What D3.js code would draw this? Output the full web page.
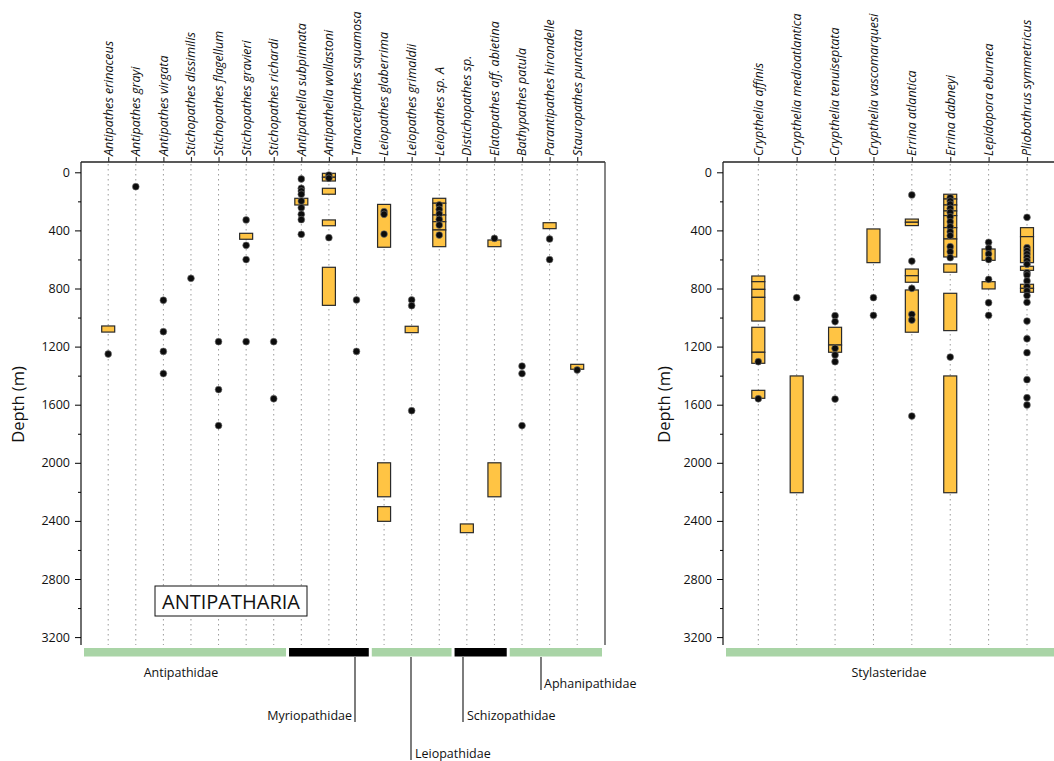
<!DOCTYPE html>
<html>
<head>
<meta charset="utf-8">
<script src="https://cdn.jsdelivr.net/npm/d3@7"></script>
<style>
  body { margin: 0; background: #fff; }
  svg { font-family: "Open Sans", "Noto Sans", sans-serif; }
</style>
</head>
<body>
<svg id="chart" width="1054" height="761"></svg>
<script>
// ---- Antipatharia (left panel) ----
const antSpecies = [
  "Antipathes erinaceus", "Antipathes grayi", "Antipathes virgata", "Stichopathes dissimilis",
  "Stichopathes flagellum", "Stichopathes gravieri", "Stichopathes richardi", "Antipathella subpinnata",
  "Antipathella wollastoni", "Tanacetipathes squamosa", "Leiopathes glaberrima", "Leiopathes grimaldii",
  "Leiopathes sp. A", "Distichopathes sp.", "Elatopathes aff. abietina", "Bathypathes patula",
  "Parantipathes hirondelle", "Stauropathes punctata"
];
// depth ranges (m) per species
const antRanges = [
  [[1058, 1100]], [], [], [], [], [[420, 461]], [],
  [[179, 225]],
  [[7, 34], [34, 60], [110, 151], [328, 368], [654, 916]],
  [],
  [[221, 516], [2000, 2234], [2302, 2403]],
  [[1060, 1104]],
  [[179, 213], [213, 294], [294, 340], [340, 397], [397, 512]],
  [[2421, 2481]],
  [[466, 512], [2000, 2234]],
  [],
  [[347, 388]],
  [[1322, 1356]]
];
// single depth records (m) per species
const antRecords = [
  [1251], [99], [881, 1097, 1233, 1386], [730], [1166, 1496, 1744], [328, 503, 601, 1166], [1166, 1559],
  [46, 110, 129, 151, 198, 244, 289, 326, 427],
  [19, 41, 450],
  [879, 1233],
  [271, 289, 425],
  [879, 918, 1641],
  [225, 255, 287, 324, 363, 432],
  [],
  [455],
  [1334, 1386, 1744],
  [459, 601],
  [1361]
];
const antFamilies = ["Antipathidae", "Myriopathidae", "Leiopathidae", "Schizopathidae", "Aphanipathidae"];
const antFamilySpan = [[0, 6], [7, 9], [10, 12], [13, 14], [15, 17]];

// ---- Stylasteridae (right panel) ----
const stySpecies = [
  "Crypthelia affinis", "Crypthelia medioatlantica", "Crypthelia tenuiseptata", "Crypthelia vascomarquesi",
  "Errina atlantica", "Errina dabneyi", "Lepidopora eburnea", "Pliobothrus symmetricus"
];
const styRanges = [
  [[714, 753], [753, 806], [806, 861], [861, 1024], [1067, 1239], [1239, 1315], [1501, 1556]],
  [[1402, 2206]],
  [[1067, 1189], [1189, 1239]],
  [[390, 622]],
  [[322, 344], [344, 367], [666, 712], [712, 757], [810, 1101]],
  [[151, 184], [184, 225], [225, 266], [266, 298], [298, 381], [381, 459], [459, 583], [631, 688], [833, 1090], [1402, 2206]],
  [[528, 606], [753, 803]],
  [[381, 443], [443, 622], [647, 675], [771, 799], [799, 826]]
];
const styRecords = [
  [1304, 1559],
  [863],
  [987, 1028, 1212, 1258, 1304, 1561],
  [863, 985],
  [156, 611, 799, 978, 1017, 1678],
  [175, 198, 220, 248, 275, 306, 340, 375, 409, 436, 512, 547, 588, 1272],
  [482, 523, 562, 601, 737, 898, 985],
  [310, 519, 540, 562, 585, 609, 633, 691, 707, 748, 787, 817, 849, 895, 1024, 1146, 1242, 1428, 1552, 1602]
];
const styFamilies = ["Stylasteridae"];
const styFamilySpan = [[0, 7]];

const depthMajor = d3.range(0, 3201, 400);
const depthMinor = d3.range(200, 3200, 400);

// config
const svg = d3.select("#chart");
const frameTop = 162;
const frameBottom = 645;
const barColor = "#ffc444";
const famColors = ["#a9d4a6", "#000000"];
const y = d3.scaleLinear().domain([0, 3200]).range([172.3, 637.1]);

function translate(x, y) {
  return `translate(${x}, ${y})`;
}

function drawPanel(p) {
  const g = svg.append("g");
  const x = d3.scalePoint().domain(p.species).range(p.colRange);

  // frame
  g.append("line").attr("x1", p.left).attr("x2", p.right).attr("y1", frameTop).attr("y2", frameTop)
    .attr("stroke", "#222").attr("stroke-width", 1.3);
  g.append("line").attr("x1", p.left).attr("x2", p.left).attr("y1", frameTop).attr("y2", frameBottom)
    .attr("stroke", "#222").attr("stroke-width", 1.3);
  g.append("line").attr("x1", p.right).attr("x2", p.right).attr("y1", frameTop).attr("y2", frameBottom)
    .attr("stroke", "#444").attr("stroke-width", 1.3);

  // dotted column lines
  g.append("g").selectAll("line")
    .data(p.species)
    .join("line")
    .attr("x1", d => x(d)).attr("x2", d => x(d))
    .attr("y1", frameTop + 2).attr("y2", frameBottom)
    .attr("stroke", "#9a9a9a").attr("stroke-width", 1)
    .attr("stroke-dasharray", "1.5,3.5");

  // top ticks
  const top = g.append("g").attr("transform", translate(0, frameTop))
    .call(d3.axisTop(x).tickSize(5).tickFormat(""));
  top.select(".domain").remove();
  top.selectAll(".tick line").attr("stroke", "#333").attr("stroke-width", 1.2);

  // species labels
  g.append("g").selectAll("text")
    .data(p.species)
    .join("text")
    .attr("transform", d => translate(x(d), frameTop - 6) + " rotate(-90)")
    .attr("dy", "0.35em")
    .attr("font-size", 12.5)
    .attr("font-style", "italic")
    .attr("fill", "#111")
    .text(d => d);

  // depth axis
  const ax = g.append("g").attr("transform", translate(p.left, 0))
    .call(d3.axisLeft(y).tickValues(depthMajor).tickSize(6).tickPadding(5).tickFormat(d3.format("d")));
  ax.select(".domain").remove();
  ax.selectAll("text").attr("font-size", 12.5).attr("fill", "#111")
    .attr("font-family", "\"Open Sans\", sans-serif");
  const axm = g.append("g").attr("transform", translate(p.left, 0))
    .call(d3.axisLeft(y).tickValues(depthMinor).tickSize(3).tickFormat(""));
  axm.select(".domain").remove();

  g.append("text")
    .attr("transform", translate(p.labelX, (frameTop + frameBottom) / 2 + 1) + " rotate(-90)")
    .attr("text-anchor", "middle")
    .attr("font-size", 16.5)
    .attr("fill", "#111")
    .text("Depth (m)");

  // range bars
  const bars = [];
  p.ranges.forEach((rs, i) => rs.forEach(r => bars.push({ sp: p.species[i], a: r[0], b: r[1] })));
  g.append("g").selectAll("rect")
    .data(bars)
    .join("rect")
    .attr("x", d => x(d.sp) - 6.5)
    .attr("width", 13)
    .attr("y", d => y(d.a))
    .attr("height", d => y(d.b) - y(d.a))
    .attr("fill", barColor)
    .attr("stroke", "#2a2a2a")
    .attr("stroke-width", 1.2);

  // records
  const dots = [];
  p.records.forEach((rs, i) => rs.forEach(r => dots.push({ sp: p.species[i], d: r })));
  g.append("g").selectAll("circle")
    .data(dots)
    .join("circle")
    .attr("cx", d => x(d.sp))
    .attr("cy", d => y(d.d))
    .attr("r", 3.4)
    .attr("fill", "#0c0c0c")
    .attr("stroke", "#777")
    .attr("stroke-width", 0.6);

  // family bars
  const step = x.step();
  const fam = p.families.map((f, k) => {
    const [i0, i1] = p.familySpan[k];
    const x0 = i0 === 0 ? p.left + 3 : x(p.species[i0]) - step / 2 + 1.5;
    const x1 = i1 === p.species.length - 1 ? p.right - 3 : x(p.species[i1]) + step / 2 - 1.5;
    return { name: f, x0, x1, k };
  });
  g.append("g").selectAll("rect")
    .data(fam)
    .join("rect")
    .attr("x", d => d.x0)
    .attr("width", d => d.x1 - d.x0)
    .attr("y", 648)
    .attr("height", 8.5)
    .attr("fill", d => famColors[d.k % 2]);

  return { g, x, fam };
}

// left panel
const left = drawPanel({
  species: antSpecies, ranges: antRanges, records: antRecords,
  families: antFamilies, familySpan: antFamilySpan,
  left: 81, right: 605, colRange: [108.2, 577.2], labelX: 24
});

// family labels for Antipatharia
const leaders = [
  null,
  { lx: 355, ly: 722, tx: 352, anchor: "end" },
  { lx: 411, ly: 760, tx: 415, anchor: "start" },
  { lx: 463, ly: 722, tx: 467, anchor: "start" },
  { lx: 541, ly: 690, tx: 544, anchor: "start" }
];
left.fam.forEach((f, k) => {
  const l = leaders[k];
  if (!l) {
    left.g.append("text")
      .attr("x", (f.x0 + f.x1) / 2 - 4).attr("y", 677)
      .attr("text-anchor", "middle").attr("font-size", 12.5).attr("fill", "#111")
      .text(f.name);
    return;
  }
  left.g.append("line")
    .attr("x1", l.lx).attr("x2", l.lx).attr("y1", 657).attr("y2", l.ly)
    .attr("stroke", "#111").attr("stroke-width", 1.1);
  left.g.append("text")
    .attr("x", l.tx).attr("y", l.ly - 2)
    .attr("text-anchor", l.anchor).attr("font-size", 12.5).attr("fill", "#111")
    .text(f.name);
});

// ANTIPATHARIA box
left.g.append("rect")
  .attr("x", 155).attr("y", 586).attr("width", 152).attr("height", 30)
  .attr("fill", "#fff").attr("stroke", "#111").attr("stroke-width", 1);
left.g.append("text")
  .attr("x", 231).attr("y", 608.5)
  .attr("text-anchor", "middle").attr("font-size", 20).attr("fill", "#111")
  .text("ANTIPATHARIA");

// right panel
const right = drawPanel({
  species: stySpecies, ranges: styRanges, records: styRecords,
  families: styFamilies, familySpan: styFamilySpan,
  left: 723, right: 1069, colRange: [758.3, 1027], labelX: 670
});
right.fam.forEach(f => {
  right.g.append("text")
    .attr("x", 889).attr("y", 677)
    .attr("text-anchor", "middle").attr("font-size", 12.5).attr("fill", "#111")
    .text(f.name);
});
</script>
</body>
</html>
